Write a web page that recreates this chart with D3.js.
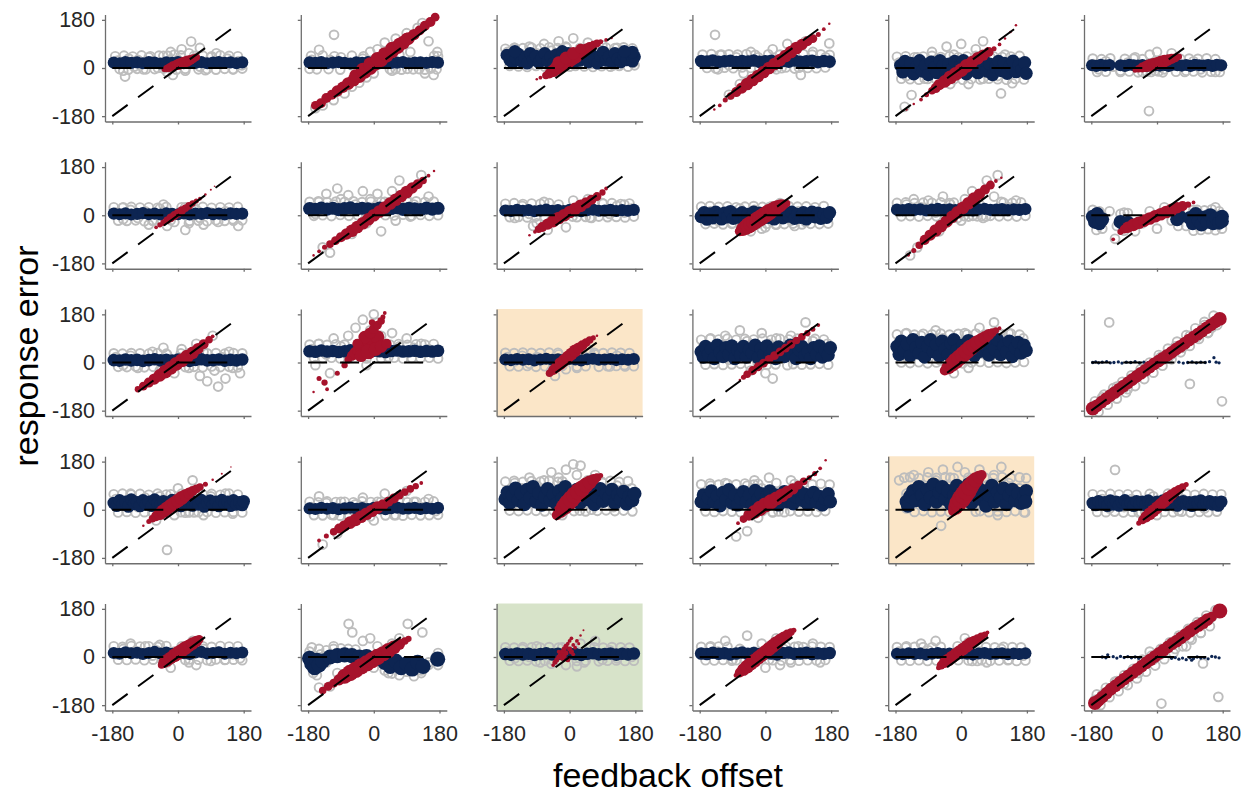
<!DOCTYPE html>
<html><head><meta charset="utf-8">
<script src="https://cdn.jsdelivr.net/npm/d3@7"></script>
<style>body{margin:0;background:#fff}</style>
</head><body>
<svg id="chart" width="1252" height="794"></svg>
<script>
// ---- data (degrees) ----
const tickValues = [-180, 0, 180];
const tickLabels = ["-180", "0", "180"];
const axisMin = -200, axisMax = 200;
const xLabel = "feedback offset";
const yLabel = "response error";

// panel order: row by row, 6 columns
const panelShade = [null,null,null,null,null,null, null,null,null,null,null,null,
  null,null,"beige",null,null,null, null,null,null,null,"beige",null, null,null,"green",null,null,null];

// model weight of the navy component per panel (0-10 scale)
const navyWeight = [4.8,4.8,5,5,5.2,4.8, 4.8,5.2,4.8,5.2,4.8,5.5, 5,5,4.8,5.3,5.3,1.3, 5,4.8,5.5,5.3,5.5,5, 4.8,6,5,5,4.8,1.3];

// observed responses: scattered
const grayPts = [
 [[-165,28],[-150,-10],[-145,-32],[-135,35],[-120,5],[-110,30],[-95,-5],[-80,40],[-70,25],[-55,0],[-40,45],[-30,-15],[-20,60],[-10,50],[0,30],[10,70],[20,-10],[30,55],[36,99],[45,35],[60,75],[75,-8],[90,40],[105,55],[120,15],[135,35],[150,-5],[165,25],[175,10],[-14,-26],[60,5]],
 [[-109,124],[-150,68],[-120,30],[-160,-150],[-140,-140],[-110,-120],[-80,-95],[-60,-70],[-40,-55],[-20,-35],[0,-20],[-60,10],[-30,35],[-10,60],[10,70],[30,95],[40,30],[60,110],[70,50],[90,130],[100,60],[120,150],[133,168],[150,100],[165,45],[174,60],[164,-26],[140,-20],[50,-10],[90,20],[-170,30],[-90,40]],
 [[-170,60],[-150,75],[-130,50],[-110,80],[-90,55],[-70,90],[-50,65],[-30,100],[-10,80],[10,111],[30,70],[50,95],[70,60],[90,85],[110,55],[130,75],[150,60],[170,45],[-160,20],[-120,15],[-60,10],[0,5],[60,15],[120,10],[175,20],[-40,-15]],
 [[-138,124],[-150,30],[-120,50],[-100,10],[-80,40],[-60,-20],[-40,60],[-20,40],[0,-10],[20,70],[40,50],[60,90],[80,30],[97,-26],[110,100],[130,60],[150,20],[175,92],[165,40],[-170,15],[-130,-5],[-70,-60],[-40,-45],[-100,-100],[30,-5]],
 [[-170,20],[-150,-30],[-136,-101],[-120,40],[-100,-40],[-80,60],[-60,-10],[-40,80],[-20,50],[0,90],[20,-60],[40,70],[60,-40],[80,40],[100,-30],[109,-95],[120,50],[140,-57],[160,20],[175,-20],[-30,-60],[10,30],[-155,-145],[60,100]],
 [[-175,15],[-160,-5],[-140,25],[-100,-10],[-80,20],[-60,40],[-40,-15],[-20,50],[0,60],[-22,-161],[20,-5],[40,55],[60,10],[80,-10],[100,25],[120,-5],[140,15],[160,-15],[175,5],[-120,5],[30,30],[-5,-10]],
 [[-170,10],[-150,-15],[-130,20],[-110,-10],[-90,15],[-70,-20],[-50,25],[-30,-40],[-10,-25],[10,30],[30,-30],[50,20],[70,-35],[90,10],[110,-25],[130,15],[150,-15],[165,-40],[175,5],[-40,40],[20,-55],[60,-10],[-150,30],[-80,-35]],
 [[-170,30],[-150,50],[-130,80],[-110,40],[-100,100],[-90,60],[-70,75],[-50,40],[-30,90],[-10,60],[10,80],[30,50],[50,90],[70,130],[90,60],[110,40],[130,150],[150,70],[170,30],[-140,-120],[-120,-140],[-60,-70],[-20,-30],[20,-60],[60,-20],[100,-5],[140,20],[-160,5]],
 [[-170,20],[-150,-10],[-130,35],[-110,5],[-90,-30],[-70,50],[-50,-20],[-30,40],[-10,-45],[10,55],[30,30],[50,60],[70,20],[90,45],[110,5],[130,35],[150,10],[170,25],[-100,-40],[-60,-55],[60,-10],[150,40]],
 [[-170,-10],[-150,15],[-130,-20],[-110,10],[-90,-30],[-70,25],[-50,-40],[-30,20],[-10,-50],[10,30],[30,-35],[50,25],[70,-20],[90,15],[110,-25],[130,10],[150,-15],[170,5],[-40,-60],[0,-45],[40,45],[80,-40]],
 [[-170,15],[-150,40],[-130,60],[-110,30],[-90,55],[-70,10],[-50,70],[-30,40],[-10,-10],[10,60],[30,90],[50,40],[70,130],[90,70],[100,150],[110,50],[130,30],[150,55],[170,25],[-120,-120],[-140,-150],[-60,-60],[0,-20],[60,-10]],
 [[-170,-30],[-150,-5],[-130,15],[-110,-40],[-90,10],[-60,-60],[-40,-30],[-20,15],[0,-50],[20,30],[40,-20],[60,10],[80,-40],[100,20],[120,-30],[140,5],[160,30],[175,-20],[-115,-88]],
 [[-170,20],[-150,-10],[-130,25],[-110,-20],[-90,10],[-70,40],[-50,-30],[-30,30],[-10,-40],[10,50],[30,-20],[50,70],[60,-50],[70,40],[80,-70],[95,100],[100,-30],[110,-90],[120,20],[130,-60],[140,40],[150,-20],[160,10],[170,-40],[-40,55]],
 [[-170,50],[-150,70],[-130,30],[-110,90],[-90,60],[-70,100],[-50,130],[-30,160],[-10,120],[0,180],[10,150],[20,100],[30,70],[50,110],[70,60],[90,90],[110,55],[130,70],[150,50],[170,40],[-160,-10],[-120,-40],[-20,-10],[40,20]],
 [[-170,20],[-150,5],[-130,25],[-110,-5],[-90,20],[-70,10],[-50,-30],[-30,30],[-10,-25],[10,40],[30,20],[50,50],[70,30],[90,10],[110,-15],[130,25],[150,-10],[170,15],[-40,-50],[20,-20]],
 [[-170,60],[-150,90],[-130,30],[-110,100],[-90,60],[-70,120],[-50,80],[-30,50],[-10,110],[10,70],[30,90],[50,40],[70,100],[90,60],[110,150],[130,80],[150,40],[170,70],[-40,-30],[0,-40],[20,-60],[60,-10],[-100,10]],
 [[-170,80],[-150,110],[-130,60],[-110,100],[-90,70],[-70,120],[-50,90],[-30,60],[-10,80],[10,110],[30,70],[50,130],[70,100],[90,150],[110,90],[130,110],[150,70],[170,90],[-150,20],[-60,10],[20,-20],[-20,-40]],
 [[-170,-160],[-150,-130],[-130,-120],[-110,-90],[-90,-95],[-70,-60],[-50,-40],[-30,-20],[-10,-5],[10,20],[30,15],[50,60],[70,55],[90,100],[110,95],[130,140],[150,130],[170,160],[-131,150],[178,-145],[90,-80],[140,110],[-80,-100],[40,30]],
 [[-170,40],[-150,20],[-130,60],[-110,10],[-90,45],[-70,-10],[-50,50],[-30,30],[-10,-20],[10,60],[30,-10],[40,110],[50,40],[70,-20],[90,50],[110,20],[130,60],[150,-15],[170,30],[-30,-150],[-60,-40],[0,80]],
 [[-170,10],[-150,50],[-130,25],[-110,-20],[-90,30],[-70,-30],[-50,20],[-30,45],[-10,-25],[10,30],[30,60],[50,15],[70,40],[90,70],[110,30],[130,10],[150,40],[170,-5],[-140,-130],[-100,-90],[0,-40],[60,-20]],
 [[-170,70],[-150,100],[-130,80],[-110,120],[-90,90],[-70,110],[-50,140],[-30,120],[-10,150],[10,170],[20,130],[30,165],[50,110],[70,130],[90,100],[110,70],[130,90],[150,60],[170,80],[-160,30],[-20,-20],[60,0],[120,10]],
 [[-170,60],[-150,90],[-130,40],[-110,100],[-90,70],[-70,50],[-50,90],[-30,110],[-10,80],[10,120],[30,100],[50,70],[70,110],[90,60],[110,40],[130,50],[150,10],[170,30],[-50,-80],[-80,-100],[20,-10],[-20,-30]],
 [[-170,110],[-150,60],[-130,130],[-110,90],[-90,140],[-70,110],[-50,150],[-30,120],[-10,160],[10,140],[30,110],[50,150],[70,90],[90,130],[110,160],[130,100],[150,60],[170,30],[175,-10],[-55,-60],[-140,20],[100,-20],[160,80]],
 [[-170,20],[-150,40],[-130,5],[-110,30],[-90,10],[-70,40],[-50,-10],[-30,30],[-10,50],[10,20],[30,60],[50,10],[70,40],[90,20],[110,35],[130,5],[150,30],[170,15],[-115,149],[0,-20],[60,-5]],
 [[-170,10],[-150,30],[-130,50],[-110,20],[-90,40],[-70,5],[-50,45],[-30,-20],[-10,20],[10,40],[30,-20],[40,60],[50,-30],[70,30],[90,-15],[110,20],[130,-10],[150,10],[170,-5],[-20,-40],[-60,25]],
 [[-170,36],[-150,30],[-130,-20],[-110,40],[-90,10],[-69,124],[-59,92],[-30,60],[-10,70],[10,40],[30,20],[50,50],[70,70],[93,124],[133,92],[110,-20],[130,-50],[150,-30],[170,0],[-150,-114],[-120,-110],[-100,-60],[0,-40],[40,-60]],
 [[-170,20],[-150,-5],[-130,30],[-110,0],[-90,40],[-70,10],[-50,-25],[-30,35],[-10,-30],[10,25],[30,50],[40,-20],[50,15],[70,60],[90,-10],[110,25],[130,-5],[150,20],[170,0],[20,-35],[-80,-20]],
 [[-170,10],[-150,40],[-130,20],[-110,60],[-90,-10],[-70,30],[-50,80],[-30,20],[-10,50],[10,-10],[30,70],[50,30],[70,-20],[90,40],[110,10],[130,50],[150,-20],[170,15],[-60,-50],[0,-40],[40,-30]],
 [[-170,20],[-150,40],[-130,10],[-110,50],[-90,25],[-70,60],[-50,15],[-30,-10],[-10,40],[10,70],[20,55],[30,-15],[50,20],[70,-20],[90,10],[110,30],[130,-10],[150,15],[170,5]],
 [[-170,-160],[-150,-140],[-130,-120],[-110,-90],[-90,-100],[-70,-55],[-50,-60],[-30,-15],[-10,-10],[10,10],[30,40],[50,30],[70,80],[90,70],[110,120],[120,90],[140,140],[150,150],[-40,-10],[168,-149],[12,-174],[126,-24],[80,40],[-20,20]]
];

// observed responses lying close to the navy band
const grayHaloPts = [
 [[-172,44],[-160,-4],[-148,46],[-136,-6],[-124,43],[-112,-3],[-100,47],[-88,-5],[-76,44],[-64,-4],[-52,46],[-40,-2],[-28,45],[-4,-6],[8,47],[20,-3],[44,45],[56,-5],[68,46],[80,-4],[92,44],[104,-6],[116,47],[128,-3],[140,45],[152,-5],[164,44],[176,-2]],
 [[-172,45],[-156,-5],[-140,47],[-124,-4],[-108,44],[-92,-6],[-60,46],[-44,-3],[-28,44],[44,-5],[60,-4],[76,-6],[92,-3],[108,-5],[124,-4],[140,-6],[156,-2],[172,-5],[176,44],[-176,-3]],
 [[-176,72],[-164,8],[-152,75],[-140,6],[-128,74],[-116,4],[-104,76],[-92,8],[-80,73],[-68,5],[-56,77],[-44,6],[-32,74],[-20,4],[-8,76],[16,8],[28,74],[40,6],[52,75],[64,4],[76,73],[88,7],[100,76],[112,5],[124,74],[136,8],[148,77],[160,5],[172,73],[178,10]],
 [[-172,50],[-160,0],[-148,52],[-136,-2],[-124,49],[-112,1],[-100,51],[-88,-1],[-76,50],[-64,2],[-52,52],[-40,0],[-28,49],[-16,-2],[8,51],[20,1],[44,-1],[56,2],[80,-2],[92,1],[104,52],[116,0],[128,50],[140,-1],[152,51],[164,2],[176,49]],
 [[-176,42],[-164,-40],[-152,44],[-140,-42],[-128,40],[-116,-44],[-104,43],[-92,-41],[-80,45],[-68,-43],[-56,41],[-44,-40],[-32,44],[-20,-42],[-8,40],[4,-44],[16,43],[28,-41],[40,45],[52,-43],[64,42],[76,-40],[88,44],[100,-42],[112,41],[124,-44],[136,43],[148,-41],[160,45],[172,-43]],
 [[-176,35],[-164,-15],[-152,33],[-140,-14],[-128,36],[-100,-15],[-88,34],[-76,-13],[-64,35],[-52,-16],[-40,33],[-28,-14],[-16,-15],[4,-13],[16,-16],[52,-14],[64,34],[76,-15],[88,35],[100,-13],[112,34],[124,-16],[136,36],[148,-14],[160,33],[172,-15]],
 [[-176,30],[-164,-20],[-152,28],[-140,-21],[-128,31],[-116,-19],[-104,29],[-92,-22],[-80,30],[-68,-20],[-56,28],[-44,-21],[-32,31],[-20,-19],[20,30],[32,-21],[44,29],[56,-20],[68,31],[80,-22],[92,28],[104,-19],[116,30],[128,-21],[140,29],[152,-20],[164,31],[176,-19]],
 [[-176,50],[-164,-2],[-152,52],[-140,0],[-128,49],[-116,-3],[-104,51],[-92,1],[-80,50],[-68,-2],[-56,52],[-44,0],[-32,49],[-20,-3],[-8,51],[20,50],[32,0],[44,49],[56,-1],[68,51],[80,2],[92,50],[104,-2],[116,52],[128,1],[140,49],[152,-2],[164,51],[176,0]],
 [[-176,43],[-164,-7],[-152,45],[-140,-6],[-128,42],[-116,-8],[-104,44],[-92,-5],[-80,43],[-68,-7],[-56,45],[-44,-6],[-32,-8],[8,-5],[20,-7],[44,-6],[56,-8],[68,44],[80,-5],[92,43],[104,-7],[116,45],[128,-6],[140,42],[152,-8],[164,44],[176,-5]],
 [[-176,32],[-164,-33],[-152,34],[-140,-31],[-128,31],[-116,-34],[-104,33],[-92,-32],[-80,30],[-68,-34],[-56,32],[-44,-31],[-32,34],[-20,-33],[-8,31],[4,-32],[16,33],[28,-34],[40,31],[52,-33],[64,34],[76,-31],[88,32],[100,-34],[112,33],[124,-32],[136,30],[148,-33],[160,34],[172,-31]],
 [[-176,46],[-164,-4],[-152,48],[-140,-3],[-128,45],[-116,-5],[-104,47],[-92,-2],[-80,46],[-68,-4],[-56,48],[-44,-3],[-32,45],[-20,47],[8,-3],[20,-5],[32,-2],[44,-4],[56,-3],[68,-5],[80,-2],[104,-4],[116,47],[128,-3],[140,46],[152,-5],[164,48],[176,-2]],
 [[-176,20],[-166,-55],[-158,15],[-150,-50],[-100,5],[-90,-58],[-80,8],[100,-58],[110,20],[120,-55],[130,18],[140,-52],[150,22],[160,-56],[170,15],[178,-50],[58,-40],[62,18]],
 [[-176,34],[-164,-16],[-152,33],[-140,-17],[-128,35],[-116,-15],[-104,34],[-92,-18],[-80,33],[-68,-16],[-56,35],[-44,-17],[-32,33],[-20,-15],[8,34],[20,-17],[32,35],[44,-16],[56,33],[68,-18],[80,34],[92,-15],[104,35],[116,-17],[128,33],[140,-16],[152,35],[164,-18],[176,34]],
 [[-176,67],[-164,17],[-152,69],[-140,16],[-128,66],[-116,18],[-104,68],[-92,15],[-80,67],[-68,17],[-20,15],[20,16],[44,67],[56,18],[68,69],[80,15],[92,66],[104,17],[116,68],[128,16],[140,67],[152,18],[164,69],[176,15]],
 [[-176,36],[-164,-14],[-152,35],[-140,-15],[-128,37],[-116,-13],[-104,36],[-92,-16],[-80,35],[-68,-14],[-56,37],[-32,36],[-20,-13],[20,-15],[44,-14],[56,37],[68,36],[80,-16],[92,35],[104,-14],[116,37],[128,-13],[140,36],[152,-15],[164,35],[176,-14]],
 [[-176,85],[-164,-8],[-152,88],[-140,-6],[-128,86],[-116,-9],[-104,89],[-92,-7],[-80,85],[-68,-5],[-56,88],[-44,-8],[-32,86],[-20,-6],[-8,89],[4,-9],[16,85],[28,-7],[40,88],[64,86],[76,-6],[88,89],[100,-8],[112,85],[124,-7],[136,88],[148,-5],[160,86],[172,-8]],
 [[-176,105],[-164,0],[-152,108],[-140,-2],[-128,104],[-116,1],[-104,107],[-92,-3],[-80,105],[-68,0],[-56,108],[-44,2],[-32,104],[-20,-1],[-8,107],[4,-3],[16,105],[28,0],[40,108],[52,2],[64,104],[76,-1],[88,107],[100,1],[112,105],[124,-2],[136,108],[148,0],[160,104],[172,2]],
 [[-170,-145],[-160,-185],[-145,-120],[-135,-158],[-120,-96],[-110,-135],[-95,-72],[-85,-112],[-70,-48],[-60,-88],[-45,-25],[-35,-62],[-20,0],[-10,-38],[5,28],[15,-12],[30,52],[40,12],[55,78],[65,38],[80,102],[90,62],[105,128],[115,88],[130,152],[140,112],[155,175],[165,140]],
 [[-176,58],[-164,-10],[-152,60],[-140,-8],[-128,57],[-116,-11],[-104,59],[-92,-9],[-80,56],[-68,-10],[-56,60],[-44,-8],[-32,57],[-20,58],[8,-9],[20,-11],[32,-8],[44,-10],[56,-9],[68,57],[80,-8],[92,59],[104,-11],[116,56],[128,-9],[140,60],[152,-8],[164,57],[176,-10]],
 [[-176,30],[-164,-20],[-152,28],[-140,-21],[-128,31],[-116,-19],[-104,29],[-92,-22],[-80,30],[-68,-20],[-56,28],[-44,-21],[-32,31],[-20,-19],[-8,29],[20,30],[32,-21],[44,29],[56,-20],[68,31],[80,-22],[92,28],[104,-19],[116,30],[128,-21],[140,29],[152,-20],[164,31],[176,-19]],
 [[-176,105],[-164,-3],[-152,108],[-140,-5],[-128,104],[-116,-2],[-104,107],[-92,-4],[-80,105],[-68,-6],[-56,108],[-44,-3],[-32,104],[-20,106],[12,-5],[28,-3],[44,-6],[60,106],[76,-4],[88,105],[100,-2],[112,108],[124,-5],[136,104],[148,-3],[160,107],[172,-6]],
 [[-176,95],[-164,-6],[-152,98],[-140,-8],[-128,94],[-116,-5],[-104,97],[-92,-7],[-80,95],[-68,-9],[-56,98],[-44,-6],[-32,94],[-20,97],[-8,-5],[20,-8],[36,-6],[52,-9],[68,-5],[80,96],[92,-7],[104,98],[116,-6],[128,95],[140,-8],[152,97],[164,-5],[176,94]],
 [[-156,120],[-150,5],[-140,122],[-128,-8],[-116,118],[-104,-5],[-92,121],[-80,-9],[-68,119],[-56,-6],[-44,122],[-32,-8],[-20,118],[20,120],[40,-7],[52,-5],[64,121],[76,-9],[88,118],[100,-6],[112,122],[124,-8],[136,119],[148,-5],[160,121],[172,-9],[178,118]],
 [[-176,58],[-164,-8],[-152,56],[-140,-9],[-128,59],[-116,-7],[-104,57],[-92,-10],[-80,58],[-68,-8],[-56,56],[-44,-9],[-32,-7],[-20,59],[20,-8],[44,-9],[56,57],[68,-7],[80,58],[92,-10],[104,56],[116,-8],[128,59],[140,-9],[152,57],[164,-7],[176,58]],
 [[-176,40],[-164,-10],[-152,38],[-140,-11],[-128,41],[-116,-9],[-104,39],[-92,-12],[-80,40],[-68,-10],[-56,38],[-44,-11],[-32,41],[20,-11],[32,-9],[56,-10],[68,40],[80,-12],[92,38],[104,-9],[116,41],[128,-11],[140,39],[152,-10],[164,40],[176,-12]],
 [[-176,20],[-166,-60],[-156,-68],[-146,10],[-130,25],[-110,30],[-90,32],[-70,30],[-50,28],[-30,-20],[30,-50],[50,-62],[70,-68],[90,-55],[110,-72],[130,-60],[150,-20],[176,-30],[176,15]],
 [[-176,36],[-164,-14],[-152,35],[-140,-15],[-128,37],[-116,-13],[-104,36],[-92,-16],[-80,35],[-68,-14],[-56,37],[-44,-15],[-20,36],[20,-15],[44,-14],[56,37],[68,36],[80,-16],[92,35],[104,-14],[116,37],[128,-13],[140,36],[152,-15],[164,35],[176,-14]],
 [[-176,38],[-164,-12],[-152,37],[-140,-13],[-128,39],[-116,-11],[-104,38],[-92,-14],[-80,-12],[-56,-13],[-44,-11],[20,-12],[44,-13],[56,39],[68,-11],[80,38],[92,-14],[104,37],[116,-12],[128,39],[140,-13],[152,38],[164,-11],[176,37]],
 [[-176,37],[-164,-13],[-152,36],[-140,-14],[-128,38],[-116,-12],[-104,37],[-92,-15],[-80,36],[-68,-13],[-56,38],[-32,-14],[-8,-12],[20,-13],[44,-15],[56,-12],[68,37],[80,-14],[92,36],[104,-13],[116,38],[128,-12],[140,37],[152,-15],[164,36],[176,-13]],
 [[-165,-140],[-155,-180],[-140,-115],[-130,-150],[-115,-92],[-105,-128],[-90,-68],[-80,-105],[-65,-44],[-55,-80],[-40,-20],[-30,-55],[-15,5],[-5,-32],[10,30],[20,-8],[35,55],[45,15],[60,80],[70,40],[85,105],[95,65],[110,130],[120,90],[135,155],[145,115],[160,175]]
];

// model component 1 (navy): [offset, error]
const navyPts = [
 [[-176,20],[-160,18],[-144,22],[-128,19],[-112,21],[-96,18],[-80,22],[-64,20],[-48,17],[-32,21],[-16,19],[0,22],[16,18],[32,21],[48,19],[64,22],[80,18],[96,20],[112,22],[128,19],[144,21],[160,18],[176,21]],
 [[-176,21],[-160,19],[-144,22],[-128,18],[-112,20],[-96,22],[-80,19],[-64,17],[-48,21],[-32,19],[-16,22],[0,20],[16,18],[32,21],[48,19],[64,20],[80,22],[96,18],[112,20],[128,21],[144,19],[160,22],[176,20]],
 [[-172,48],[-164,30],[-156,20],[-148,35],[-140,52],[-132,25],[-124,40],[-116,18],[-108,55],[-100,30],[-92,45],[-84,20],[-76,38],[-68,55],[-60,25],[-52,42],[-44,18],[-36,50],[-28,30],[-20,45],[-12,22],[-4,55],[4,35],[12,20],[20,48],[28,28],[36,58],[44,40],[52,22],[60,50],[68,32],[76,18],[84,45],[92,60],[100,28],[108,42],[116,20],[124,55],[132,35],[140,22],[148,48],[156,30],[164,55],[172,25],[178,42],[172,60],[150,62],[-150,62],[-20,62]],
 [[-176,26],[-160,24],[-144,28],[-128,23],[-112,25],[-96,27],[-80,22],[-64,26],[-48,24],[-32,28],[-16,23],[0,25],[16,27],[32,22],[48,26],[64,24],[80,28],[96,23],[112,25],[128,27],[144,22],[160,26],[176,24]],
 [[-166,10],[-160,-15],[-154,25],[-146,-5],[-138,18],[-130,-22],[-122,5],[-114,28],[-106,-12],[-98,12],[-90,-25],[-82,22],[-74,0],[-66,-18],[-58,28],[-50,8],[-42,-20],[-34,15],[-26,-5],[-18,25],[-10,-15],[-2,8],[6,28],[14,-22],[22,12],[30,-8],[38,22],[46,-18],[54,5],[62,28],[70,-12],[78,15],[86,-25],[94,2],[102,25],[110,-10],[118,18],[126,-20],[134,8],[142,26],[150,-14],[158,12],[166,-6],[174,20],[178,-20]],
 [[-178,10],[-166,8],[-154,12],[-142,9],[-130,11],[-100,10],[-88,8],[-76,12],[-64,10],[-52,9],[-40,11],[-28,8],[-16,12],[-4,10],[8,9],[20,11],[32,8],[44,12],[56,10],[68,9],[80,11],[92,8],[104,12],[116,10],[128,9],[140,11],[152,8],[164,12],[176,10]],
 [[-176,6],[-160,4],[-144,7],[-128,3],[-112,5],[-96,8],[-80,4],[-64,6],[-48,3],[-32,7],[-16,5],[0,4],[16,7],[32,3],[48,6],[64,5],[80,8],[96,4],[112,6],[128,3],[144,7],[160,5],[176,6]],
 [[-176,25],[-160,22],[-144,27],[-128,23],[-112,26],[-96,21],[-80,25],[-64,28],[-48,22],[-32,26],[-16,24],[0,21],[16,27],[32,23],[48,25],[64,28],[80,22],[96,26],[112,24],[128,21],[144,27],[160,23],[176,26]],
 [[-176,18],[-160,16],[-144,20],[-128,17],[-112,19],[-96,15],[-80,18],[-64,21],[-48,17],[-32,19],[-16,16],[0,20],[16,18],[32,15],[48,19],[64,21],[80,17],[96,18],[112,20],[128,16],[144,19],[160,17],[176,20]],
 [[-176,-5],[-168,10],[-160,-15],[-152,5],[-144,-10],[-136,12],[-128,-3],[-120,-14],[-112,8],[-104,-6],[-96,14],[-88,-12],[-80,2],[-72,-8],[-64,10],[-56,-15],[-48,4],[-40,-10],[-32,12],[-24,-4],[-16,8],[-8,-12],[0,5],[8,-8],[16,12],[24,-14],[32,2],[40,10],[48,-10],[56,6],[64,-4],[72,12],[80,-12],[88,4],[96,-8],[104,10],[112,-14],[120,0],[128,12],[136,-6],[144,8],[152,-12],[160,4],[168,-8],[176,10]],
 [[-176,21],[-160,19],[-144,23],[-128,20],[-112,22],[-96,18],[-80,21],[-64,24],[-48,20],[-32,22],[-16,19],[0,23],[16,21],[32,18],[48,22],[64,24],[80,20],[96,21],[112,23],[128,19],[144,22],[160,20],[176,23]],
 [[-176,-5],[-170,-25],[-164,5],[-158,-30],[-150,-15],[-100,-25],[-90,-35],[-80,-28],[55,-15],[62,-5],[90,-10],[98,-30],[106,5],[114,-20],[122,-35],[130,-8],[138,-25],[146,0],[154,-30],[162,-12],[170,-28],[178,-5],[178,-22]],
 [[-176,9],[-160,7],[-144,11],[-128,8],[-112,10],[-96,6],[-80,9],[-64,12],[-48,8],[-32,10],[-16,7],[0,11],[16,9],[32,6],[48,10],[64,12],[80,8],[96,9],[112,11],[128,7],[144,10],[160,8],[176,11]],
 [[-176,42],[-160,40],[-144,45],[-128,41],[-112,43],[-96,39],[-80,42],[-64,46],[-48,41],[-32,43],[-16,40],[0,44],[16,42],[32,39],[48,43],[64,45],[80,41],[96,42],[112,44],[128,40],[144,43],[160,41],[176,44]],
 [[-176,11],[-160,9],[-144,13],[-128,10],[-112,12],[-96,8],[-80,11],[-64,14],[-48,10],[-32,12],[-16,9],[0,13],[16,11],[32,8],[48,12],[64,14],[80,10],[96,11],[112,13],[128,9],[144,12],[160,10],[176,13]],
 [[-176,40],[-170,20],[-164,60],[-156,30],[-148,50],[-140,15],[-132,65],[-124,38],[-116,22],[-108,55],[-100,30],[-92,62],[-84,15],[-76,45],[-68,28],[-60,60],[-52,20],[-44,48],[-36,35],[-28,65],[-20,18],[-12,52],[-4,30],[4,62],[12,25],[20,45],[28,15],[36,58],[44,35],[52,22],[60,50],[68,65],[76,30],[84,15],[92,48],[100,60],[108,25],[116,40],[124,15],[132,55],[140,30],[148,62],[156,20],[164,45],[172,28],[178,55]],
 [[-176,60],[-170,30],[-164,80],[-156,45],[-148,70],[-140,25],[-132,85],[-124,55],[-116,35],[-108,75],[-100,20],[-92,60],[-84,85],[-76,40],[-68,68],[-60,25],[-52,80],[-44,50],[-36,30],[-28,72],[-20,85],[-12,45],[-4,20],[4,65],[12,35],[20,82],[28,55],[36,25],[44,75],[52,42],[60,85],[68,60],[76,28],[84,70],[92,48],[100,85],[108,30],[116,62],[124,40],[132,80],[140,22],[148,55],[156,75],[164,35],[172,65],[178,45]],
 [[-176,0],[-168,2],[-160,-1],[-150,1],[-138,3],[-128,-1],[-118,0],[-106,2],[-96,-2],[-84,1],[-72,0],[-60,3],[-48,-1],[-36,1],[-24,0],[-12,2],[0,-1],[60,1],[72,-2],[84,0],[96,2],[108,-1],[120,1],[132,0],[144,3],[156,18],[162,1],[170,-1]],
 [[-176,25],[-168,15],[-160,35],[-152,20],[-144,30],[-136,12],[-128,38],[-120,22],[-112,28],[-104,14],[-96,35],[-88,20],[-80,30],[-72,15],[-64,38],[-56,24],[-48,18],[-40,32],[-32,12],[-24,26],[-16,36],[-8,18],[0,28],[8,14],[16,34],[24,22],[32,38],[40,16],[48,28],[56,20],[64,36],[72,12],[80,26],[88,34],[96,18],[104,30],[112,14],[120,36],[128,22],[136,30],[144,15],[152,35],[160,20],[168,28],[176,18],[180,32]],
 [[-176,5],[-160,3],[-144,7],[-128,4],[-112,6],[-96,2],[-80,5],[-64,8],[-48,4],[-32,6],[-16,3],[0,7],[16,5],[32,2],[48,6],[64,8],[80,4],[96,5],[112,7],[128,3],[144,6],[160,4],[176,7]],
 [[-176,40],[-170,65],[-164,25],[-156,55],[-148,80],[-140,35],[-132,60],[-124,20],[-116,75],[-108,45],[-100,85],[-92,30],[-84,62],[-76,18],[-68,48],[-60,78],[-52,35],[-44,58],[-36,22],[-28,70],[-20,42],[-12,85],[-4,28],[4,60],[12,45],[20,75],[28,25],[36,55],[44,80],[52,38],[60,65],[68,20],[76,50],[84,78],[92,32],[100,60],[108,45],[116,75],[124,25],[132,55],[140,40],[148,68],[156,22],[164,50],[172,35],[178,60]],
 [[-176,30],[-170,55],[-164,20],[-156,45],[-148,70],[-140,28],[-132,52],[-124,15],[-116,65],[-108,38],[-100,75],[-92,25],[-84,55],[-76,18],[-68,42],[-60,68],[-52,30],[-44,55],[-36,20],[-28,72],[-20,40],[-12,60],[-4,25],[4,50],[12,70],[20,32],[28,55],[36,18],[44,45],[52,68],[60,30],[68,55],[76,22],[84,48],[92,70],[100,35],[108,58],[116,20],[124,45],[132,65],[140,28],[148,50],[156,18],[164,40],[172,60],[178,30]],
 [[-150,30],[-146,15],[-140,50],[-132,70],[-124,35],[-116,85],[-108,55],[-100,20],[-92,75],[-84,45],[-76,95],[-68,30],[-60,65],[-52,85],[-44,40],[-36,70],[-28,20],[-20,55],[-12,90],[-4,35],[4,75],[12,50],[20,95],[28,25],[36,60],[44,85],[52,40],[60,70],[68,15],[76,55],[84,90],[92,30],[100,65],[108,45],[116,80],[124,20],[132,55],[140,75],[148,35],[156,60],[164,25],[172,50],[178,70],[176,30]],
 [[-176,25],[-168,18],[-160,32],[-152,22],[-144,28],[-136,15],[-128,34],[-120,20],[-112,30],[-104,16],[-96,28],[-88,35],[-80,20],[-72,26],[-64,15],[-56,32],[-48,22],[-40,30],[-32,18],[-24,34],[-16,24],[-8,16],[0,30],[8,20],[16,34],[24,18],[32,28],[40,22],[48,35],[56,16],[64,26],[72,32],[80,20],[88,28],[96,15],[104,30],[112,24],[120,34],[128,18],[136,26],[144,32],[152,20],[160,28],[168,16],[176,30]],
 [[-176,15],[-160,12],[-144,18],[-128,14],[-112,16],[-96,11],[-80,15],[-64,19],[-48,13],[-32,17],[-16,12],[0,16],[16,14],[32,11],[48,17],[64,19],[80,13],[96,15],[112,18],[128,12],[144,16],[160,14],[176,17]],
 [[-176,-5],[-170,-25],[-162,-40],[-156,-12],[-150,-30],[-140,-15],[-120,0],[-100,5],[-80,8],[-60,5],[-40,0],[-20,2],[30,-20],[45,-35],[60,-15],[75,-40],[90,-25],[105,-45],[120,-20],[135,-35],[175,-8]],
 [[-176,11],[-160,9],[-144,13],[-128,10],[-112,12],[-96,8],[-80,11],[-64,14],[-48,10],[-32,12],[-16,9],[0,13],[16,11],[32,8],[48,12],[64,14],[80,10],[96,11],[112,13],[128,9],[144,12],[160,10],[176,13]],
 [[-176,13],[-160,11],[-144,16],[-128,12],[-112,14],[-96,10],[-80,13],[-64,17],[-48,12],[-32,15],[-16,11],[0,14],[16,13],[32,10],[48,15],[64,17],[80,12],[96,13],[112,16],[128,11],[144,14],[160,12],[176,15]],
 [[-176,12],[-160,10],[-144,14],[-128,11],[-112,13],[-96,9],[-80,12],[-64,15],[-48,11],[-32,13],[-16,10],[0,14],[16,12],[32,9],[48,13],[64,15],[80,11],[96,12],[112,14],[128,10],[144,13],[160,11],[176,14]],
 [[-150,0],[-140,-3],[-135,8],[-120,1],[-110,-4],[-100,2],[-90,-2],[-80,1],[-70,-3],[-60,0],[-50,-5],[40,-5],[50,-2],[60,-8],[70,-4],[80,-10],[90,-3],[95,-12],[100,-6],[110,0],[120,-4],[130,-2],[140,-7],[150,2],[160,0],[170,-3]]
];

// model component 2 (red): [offset, error, weight 0-10]
const redPts = [
 [[-38,-6,2],[-30,-2,3],[-22,2,3.5],[-14,6,4],[-6,10,4],[2,14,4.5],[10,18,4.5],[18,22,4.5],[26,26,4.5],[34,30,4],[42,35,3.5],[50,40,3]],
 [[-160,-140,3.5],[-145,-132,4],[-130,-112,4],[-115,-100,4],[-100,-86,4.5],[-85,-72,4.5],[-70,-58,5],[-55,-45,5],[-40,-30,5.5],[-25,-14,5.5],[-10,0,5.5],[5,16,5.5],[20,30,5.5],[35,46,5.5],[50,62,5.5],[65,78,5.5],[80,94,5.5],[95,110,5],[110,125,4.5],[125,140,4],[140,158,4],[155,172,4],[168,190,3.5],[-50,-28,5],[-30,-6,5.5],[-10,14,5.5],[10,34,5.5],[30,52,5.5],[50,72,5.5],[70,90,5],[90,108,5]],
 [[-90,-42,1],[-80,-36,1.5],[-65,-28,3],[-55,-20,4],[-45,-10,5],[-35,0,5.5],[-25,8,6],[-15,18,6],[-5,26,6],[5,36,6],[15,44,6],[25,54,5.5],[35,62,5],[45,70,4.5],[55,78,4],[65,85,3.5],[75,92,3],[85,98,2],[100,105,1.5],[115,112,1],[-30,20,5],[-10,38,5],[10,55,5],[30,72,4]],
 [[-140,-155,1],[-125,-140,1.5],[-110,-120,2],[-95,-105,3],[-80,-90,4],[-65,-75,4.5],[-50,-60,5],[-35,-45,5],[-20,-30,5],[-5,-15,5],[10,0,5],[25,15,5],[40,30,5],[55,45,5],[70,60,5],[85,75,5],[100,88,4.5],[115,100,4],[130,110,3.5],[145,125,2],[160,145,1.5],[175,165,1]],
 [[-150,-155,1],[-130,-135,1],[-110,-118,1.5],[-95,-100,2],[-80,-85,3],[-70,-75,4],[-60,-62,4.5],[-45,-50,5],[-30,-35,5.5],[-15,-22,5.5],[0,-8,5.5],[15,8,5.5],[30,22,5],[45,36,5],[60,48,4.5],[75,60,4],[90,72,2],[105,88,1.5],[120,110,1],[135,135,1],[150,160,1]],
 [[-60,-8,2],[-50,-3,3],[-40,2,4],[-30,6,4.5],[-20,10,5],[-10,14,5],[0,18,5],[10,22,5],[20,26,5],[30,30,4.5],[40,34,4],[50,38,3.5],[60,42,2.5]],
 [[-60,-45,1.5],[-50,-36,2],[-40,-28,2.5],[-30,-19,3],[-20,-10,3.5],[-10,-1,3.5],[0,8,3.5],[10,17,3.5],[20,26,3],[30,35,3],[40,44,2.5],[50,53,2],[60,62,1.5],[75,78,1],[90,95,0.8],[100,108,0.6]],
 [[-165,-150,1],[-150,-135,1.5],[-135,-120,2],[-120,-108,3],[-105,-95,3.5],[-90,-82,4],[-75,-70,4.5],[-60,-58,5],[-45,-44,5],[-30,-30,5],[-15,-15,5],[0,0,5],[15,14,5],[30,29,5],[45,44,5],[60,58,5],[75,72,5],[90,87,5],[105,102,4.5],[120,116,4],[135,130,3],[150,148,1.5],[165,165,1]],
 [[-110,-75,1],[-95,-62,1.5],[-85,-52,3],[-75,-44,4],[-60,-33,4.5],[-45,-22,5],[-30,-10,5],[-15,0,5],[0,12,5],[15,24,5],[30,35,5],[45,46,4.5],[60,58,4],[75,70,3.5],[90,85,2.5],[100,100,1.5]],
 [[-70,-60,4],[-62,-52,5.5],[-54,-45,6],[-46,-38,6.5],[-38,-31,6.5],[-30,-24,6.5],[-22,-17,6.5],[-14,-10,6.5],[-6,-3,6.5],[2,4,6.5],[10,11,6.5],[18,18,6],[26,25,6],[34,31,5.5],[42,36,5],[50,40,4],[58,44,3]],
 [[-145,-148,1.5],[-130,-132,2],[-115,-112,3],[-100,-92,4],[-85,-74,4.5],[-70,-57,5],[-55,-40,5],[-40,-23,5],[-25,-6,5],[-10,11,5],[5,28,5],[20,45,5],[35,62,5],[50,79,4.5],[65,96,4],[80,113,3.5],[95,128,1.5],[110,140,1]],
 [[-120,-90,1.5],[-100,-62,2.5],[-90,-52,3.5],[-80,-45,4.5],[-65,-36,5],[-50,-28,5],[-35,-20,5],[-20,-12,5],[-5,-4,5],[10,4,5],[25,12,5],[40,20,5],[55,28,4.5],[70,34,4],[85,40,2.5],[100,48,1.5]],
 [[-110,-100,2.5],[-95,-88,3.5],[-80,-75,4],[-65,-62,4.5],[-50,-48,5],[-35,-34,5.5],[-20,-20,5.5],[-5,-5,5.5],[10,8,5.5],[25,22,5.5],[40,36,5],[55,52,4.5],[70,68,4],[85,85,3],[95,98,1.5]],
 [[-60,25,4],[-50,35,5],[-40,45,5.5],[-30,55,6],[-20,65,6],[-10,75,6],[0,85,6],[10,95,5.5],[-35,25,5],[-15,40,6],[5,50,5.5],[20,60,5],[-25,95,5],[-10,110,4.5],[0,125,4],[10,140,3.5],[20,155,3],[25,170,2],[30,185,1.5],[-5,150,2.5],[-45,70,4],[35,70,4],[-150,-60,2],[-135,-75,2.5],[-128,-100,1.5],[-165,-110,1],[-100,-40,2],[-80,-10,2.5],[-70,10,3]],
 [[-55,-40,3],[-45,-28,4],[-35,-16,4.5],[-25,-4,5],[-15,8,5],[-5,20,5],[5,32,5],[15,44,5],[25,54,4.5],[35,64,4],[45,74,3.5],[55,84,3],[65,92,2],[75,100,1]],
 [[-70,-65,1],[-60,-55,2],[-50,-44,3],[-35,-30,3.5],[-20,-16,3.5],[-5,-2,3.5],[10,12,3.5],[25,26,3.5],[40,40,3.5],[55,54,3.5],[70,68,3.5],[85,82,3],[100,96,3],[115,110,2.5],[130,124,2],[145,140,1.5]],
 [[-45,-30,4],[-35,-18,5.5],[-25,-6,6],[-15,6,6.5],[-5,18,6.5],[5,30,6.5],[15,42,6.5],[25,54,6.5],[35,64,6],[45,74,6],[55,84,5.5],[65,94,5],[75,104,4.5],[85,112,3.5],[95,120,2.5],[105,128,1.5]],
 [[-176,-172,5.5],[-165,-162,5],[-152,-148,5],[-140,-136,5],[-128,-124,5],[-116,-112,5],[-104,-100,5],[-92,-88,5],[-80,-76,5],[-68,-64,5],[-56,-52,5],[-44,-40,5],[-32,-29,5],[-20,-17,5],[-8,-5,5],[4,5,5],[16,16,5],[28,27,5],[40,38,5],[52,50,5],[64,61,5],[76,72,5],[88,84,5],[100,95,5],[112,106,5],[124,118,5],[136,130,5],[148,141,5],[160,152,5],[172,163,5.5]],
 [[-95,-60,1],[-80,-44,2],[-70,-34,3],[-60,-24,4],[-50,-15,5],[-40,-5,5.5],[-30,5,5.5],[-20,15,5.5],[-10,25,5.5],[0,34,5.5],[10,44,5.5],[20,53,5],[30,62,4.5],[40,70,4],[50,78,3.5],[60,85,3],[75,95,2],[95,112,1],[120,135,0.8],[145,160,0.6]],
 [[-150,-115,1.5],[-130,-98,2],[-110,-82,3],[-95,-70,4],[-80,-60,4.5],[-65,-48,5],[-50,-38,5],[-35,-26,5],[-20,-15,5],[-5,-4,5],[10,8,5],[25,18,4.5],[40,30,4],[55,42,4],[70,55,3.5],[85,66,3],[100,78,3],[115,88,2.5],[130,100,1.5]],
 [[-35,-20,4],[-25,-5,5.5],[-15,10,6.5],[-5,25,7],[5,40,7],[15,55,7],[25,68,7],[35,80,6.5],[45,92,6],[55,102,5.5],[65,112,4.5],[75,120,3.5],[85,128,2]],
 [[-75,-50,1.5],[-60,-35,3],[-45,-20,4.5],[-30,-8,5.5],[-15,5,6],[0,18,6],[15,30,6],[30,42,5.5],[45,54,5.5],[60,66,5],[75,78,4.5],[90,92,3.5],[105,106,3],[120,120,2],[135,135,2],[150,155,1.5],[165,185,1]],
 [[-22,-5,4],[-15,10,6],[-8,25,7],[0,40,7.5],[8,55,7.5],[16,70,7.5],[24,85,7],[32,100,6.5],[40,112,6],[48,122,5],[56,130,4]],
 [[-50,-50,2],[-40,-38,3.5],[-30,-26,4.5],[-20,-15,5],[-10,-4,5],[0,8,5],[10,20,5],[20,32,5],[30,44,5],[40,55,4.5],[50,66,4],[60,76,3.5],[70,85,3],[80,94,2]],
 [[-45,-30,3],[-38,-20,4.5],[-30,-12,5],[-20,-3,5],[-10,6,5.5],[0,15,5.5],[10,24,5.5],[20,33,5.5],[30,42,5],[40,50,5],[50,58,4.5],[58,66,3.5]],
 [[-140,-125,3],[-125,-110,3.5],[-110,-98,3.5],[-95,-85,4.5],[-80,-72,6],[-65,-60,6.5],[-50,-48,6.5],[-35,-35,6.5],[-20,-24,6.5],[-5,-12,6.5],[10,0,6.5],[25,12,6],[40,24,6],[55,36,5.5],[70,48,4.5],[85,60,3],[95,68,2.5]],
 [[-45,-30,1.5],[-40,-20,2],[-35,-10,2],[-30,0,2],[-25,10,2],[-20,20,2],[-15,30,2],[-10,40,2],[-5,50,1.5],[0,60,1.5],[5,70,1.5],[-30,20,1.5],[-20,-5,2],[-10,15,2],[0,30,2],[10,45,1.5],[20,60,1.5],[-15,5,2],[5,20,2],[15,35,1.5],[25,50,1.2],[30,80,1],[38,100,0.8],[-5,-10,2],[10,10,1.5]],
 [[-80,-68,2],[-70,-58,4],[-60,-47,5],[-50,-36,5.5],[-40,-25,5.5],[-30,-14,5.5],[-20,-3,5.5],[-10,8,5.5],[0,19,5.5],[10,30,5.5],[20,41,5.5],[30,52,5.5],[40,63,5],[50,74,4.5],[60,84,4],[70,93,3],[78,100,2]],
 [[-62,-40,2],[-55,-30,3.5],[-45,-20,4.5],[-35,-10,5],[-25,0,5],[-15,10,5],[-5,20,5],[5,30,5],[15,40,5],[25,50,5],[35,58,4.5],[45,66,4],[55,75,3.5],[65,84,2.5],[72,92,1.5]],
 [[-170,-172,5.5],[-160,-162,5],[-150,-150,5],[-138,-135,5],[-126,-120,5],[-114,-108,5],[-102,-95,5],[-90,-82,5],[-78,-70,5],[-66,-58,5],[-54,-46,5],[-42,-34,5],[-30,-22,5],[-18,-10,5],[-6,2,5],[6,14,5],[18,26,5],[30,38,5],[42,50,5],[54,60,5],[66,72,5],[78,84,5],[90,96,5],[102,108,5],[114,118,5],[126,128,5],[138,140,5],[150,150,4],[172,172,6]]
];

// ---- drawing ----
const svg = d3.select("#chart");
const boxW = 146, boxH = 107;
const shadeColor = {beige: "#fbe6c8", green: "#d7e3c9"};
const navyColor = "#0d2552", redColor = "#a6122b", grayColor = "#bdbdbd";
const axisColor = "#6e6e6e", textColor = "#262626";
const fontFam = "'Liberation Sans', Arial, Helvetica, sans-serif";
const markSize = d3.scaleLinear().domain([0, 10]).range([0, 12.6]);

for (let i = 0; i < 30; i++) {
  const row = Math.floor(i / 6), col = i % 6;
  const left = 105 + 195.8 * col, top = 14.5 + 147.25 * row;
  const x = d3.scaleLinear().domain([axisMin, axisMax]).range([left, left + boxW]);
  const y = d3.scaleLinear().domain([axisMin, axisMax]).range([top + boxH, top]);
  const g = svg.append("g");
  if (panelShade[i]) {
    g.append("rect").attr("x", left).attr("y", top).attr("width", boxW).attr("height", boxH)
      .attr("fill", shadeColor[panelShade[i]]);
  }
  g.append("g").selectAll("circle").data(grayPts[i].concat(grayHaloPts[i])).join("circle")
    .attr("cx", d => x(d[0])).attr("cy", d => y(d[1])).attr("r", 4.4)
    .attr("fill", "none").attr("stroke", grayColor).attr("stroke-width", 1.9);
  g.append("g").selectAll("circle").data(navyPts[i]).join("circle")
    .attr("cx", d => x(d[0])).attr("cy", d => y(d[1])).attr("r", markSize(navyWeight[i]))
    .attr("fill", navyColor);
  g.append("g").selectAll("circle").data(redPts[i]).join("circle")
    .attr("cx", d => x(d[0])).attr("cy", d => y(d[1])).attr("r", d => markSize(d[2]))
    .attr("fill", redColor);
  g.append("line").attr("x1", x(-180)).attr("y1", y(-180)).attr("x2", x(160)).attr("y2", y(160))
    .attr("stroke", "#000").attr("stroke-width", 2).attr("stroke-dasharray", "19,13");
  g.append("line").attr("x1", x(-180)).attr("y1", y(0)).attr("x2", x(150)).attr("y2", y(0))
    .attr("stroke", "#000").attr("stroke-width", 2).attr("stroke-dasharray", "19,13");

  const ay = g.append("g").attr("transform", `translate(${left},0)`)
    .call(d3.axisLeft(y).tickValues(tickValues).tickSize(3).tickSizeOuter(0).tickPadding(7)
      .tickFormat((d, k) => col === 0 ? tickLabels[k] : ""));
  const ax = g.append("g").attr("transform", `translate(0,${top + boxH})`)
    .call(d3.axisBottom(x).tickValues(tickValues).tickSize(3).tickSizeOuter(0).tickPadding(12)
      .tickFormat((d, k) => row === 4 ? tickLabels[k] : ""));
  [ay, ax].forEach(a => {
    a.select(".domain").attr("stroke", axisColor).attr("stroke-width", 1.3);
    a.selectAll(".tick line").attr("stroke", axisColor).attr("stroke-width", 1.3);
    a.selectAll("text").attr("font-size", "21.5px").attr("fill", textColor).attr("font-family", fontFam);
  });
}

svg.append("text").attr("transform", "translate(38,356) rotate(-90)").attr("text-anchor", "middle")
  .attr("font-family", fontFam).attr("font-size", "34px").attr("fill", "#000").text(yLabel);
svg.append("text").attr("x", 668).attr("y", 787).attr("text-anchor", "middle")
  .attr("font-family", fontFam).attr("font-size", "34px").attr("fill", "#000").text(xLabel);
</script>
</body></html>
